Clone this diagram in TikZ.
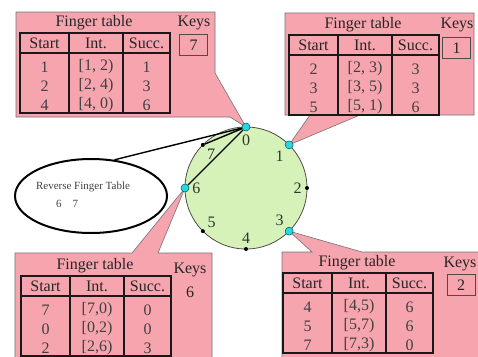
\documentclass[tikz,border=0pt]{standalone}
\usepackage{fontspec}
\setmainfont{Liberation Serif}
\usetikzlibrary{shapes.geometric}

\definecolor{callpink}{RGB}{246,164,174}
\definecolor{ringgreen}{RGB}{214,242,184}
\definecolor{peercyan}{RGB}{40,214,228}

% finger table: origin, rows start/interval/successor
\newcommand{\fingertable}[2]{%
\begin{scope}[shift={#1}]
\node[tabtext] at (74,-10) {Finger table};
\draw[tabgrid] (0,0) rectangle (150,80);
\draw[tabgrid] (0,20) -- (150,20);
\draw[tabgrid] (49,0) -- (49,80) (103,0) -- (103,80);
\node[tabtext] at (24.5,10) {Start};
\node[tabtext] at (76,10) {Int.};
\node[tabtext] at (126.5,10) {Succ.};
\foreach \s/\i/\c [count=\r from 0] in {#2}{
  \node[tabtext,text=black!75] at (24.5,34+19*\r) {\s};
  \node[tabtext,text=black!75] at (76,34+19*\r) {\i};
  \node[tabtext,text=black!75] at (126.5,34+19*\r) {\c};}
\end{scope}}

\begin{document}
\begin{tikzpicture}[x=1pt,y=-1pt,
    tabtext/.style={font=\fontsize{16}{18}\selectfont,text=black!85,inner sep=0pt},
    tabgrid/.style={line width=1.6pt,black!90},
    callout/.style={fill=callpink,draw=black!55,line width=0.6pt},
    keybox/.style={tabtext,draw=black!70,line width=0.8pt,minimum width=28pt,
        minimum height=21pt},
    ring/.style={fill=ringgreen,draw=black!70,line width=0.8pt},
    peer/.style={circle,fill=peercyan,draw=teal!70!black,line width=0.5pt,
        minimum size=8pt,inner sep=0pt},
    slot/.style={circle,fill=black,minimum size=4pt,inner sep=0pt},
    ringnum/.style={font=\fontsize{16}{18}\selectfont,text=black!80,inner sep=1pt,
        label distance=2pt},
    chord/.style={line width=1.4pt,black},
    revtable/.style={ellipse,draw=black,line width=2pt,minimum width=152pt,
        minimum height=74pt}]
\useasboundingbox (0,0) rectangle (478,356);
\clip (0,0) rectangle (478,356);

\coordinate (c) at (246,188);
\foreach \k in {0,...,7}
  \path (c) ++(-90+45*\k:61) coordinate (p\k);

\draw[ring] (c) circle (61);

% callouts
\draw[callout] (16,12) -- (215,12) -- (215,73) -- (p0) -- (230,117)
    -- (16,117) -- cycle;
\draw[callout] (285,13) -- (474,13) -- (474,115) -- (360,115) -- (p1)
    -- (310,115) -- (285,115) -- cycle;
\draw[callout] (15,253) -- (132,253) -- (p6) -- (158,253) -- (212,253)
    -- (212,362) -- (15,362) -- cycle;
\draw[callout] (282,252) -- (312,252) -- (p3) -- (362,252) -- (482,252)
    -- (482,362) -- (282,362) -- cycle;

\fingertable{(20,33)}{1/{[1, 2)}/1, 2/{[2, 4)}/3, 4/{[4, 0)}/6}
\fingertable{(289,35)}{2/{[2, 3)}/3, 3/{[3, 5)}/3, 5/{[5, 1)}/6}
\fingertable{(21,276)}{7/{[7,0)}/0, 0/{[0,2)}/0, 2/{[2,6)}/3}
\fingertable{(283,273)}{4/{[4,5)}/6, 5/{[5,7)}/6, 7/{[7,3)}/0}

% keys
\node[tabtext] at (194,23) {Keys};
\node[keybox] (key0) at (193.5,45) {7};
\node[tabtext] at (457,25) {Keys};
\node[keybox] (key1) at (456.5,48) {1};
\node[tabtext] at (190,270) {Keys};
\node[tabtext] (key6) at (190,292) {6};
\node[tabtext] at (460,264) {Keys};
\node[keybox] (key3) at (461,285) {2};

% reverse finger table
\node[revtable] (rev) at (91,196) {};
\node[font=\fontsize{11}{13}\selectfont,text=black!75] at (83,187) {Reverse Finger Table};
\node[font=\fontsize{11}{13}\selectfont,text=black!75] at (67,204) {6\quad 7};

% ring identifiers
\foreach \k/\la/\kind in {0/270/peer,1/225/peer,2/180/slot,3/135/peer,
    4/90/slot,5/35/slot,6/0/peer,7/315/slot}
  \node[\kind,label={[ringnum]\la:\k}] (n\k) at (p\k) {};

\draw[chord] (n0) -- (n6);
\draw[chord] (n7) -- (n0);
\draw[chord] (rev.57) -- (n0);
\end{tikzpicture}
\end{document}
